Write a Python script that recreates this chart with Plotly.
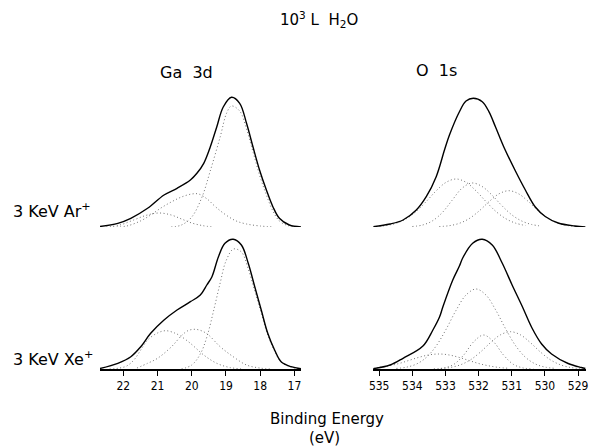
import plotly.graph_objects as go

# ---------------- data (binding energy in eV, intensity in arbitrary units) ----------------
# Ga 3d, 3 keV Ar+
ga_ar_env_be = [22.68, 22.16, 21.78, 21.29, 20.81, 20.43, 20.04, 19.85, 19.65, 19.46, 19.27, 19.08, 18.84,
                18.60, 18.40, 18.21, 18.02, 17.82, 17.63, 17.44, 17.15, 16.81]
ga_ar_env = [0.5, 3.7, 8.7, 18.7, 32, 38.7, 47, 53.7, 63.7, 80, 100, 120, 129.7,
             123.7, 103.7, 80, 57, 37, 20.3, 8.7, 2, 0]
ga_ar_c1_be = [20.6, 20.3, 20.0, 19.7, 19.46, 19.17, 18.98, 18.84, 18.6, 18.4, 18.21, 18.02, 17.82, 17.63, 17.44, 17.2, 16.9]
ga_ar_c1 = [0, 2, 10, 30, 56, 90, 114, 121, 116, 98, 75, 52, 32, 16, 6, 1.5, 0]
ga_ar_c2_be = [22.3, 21.9, 21.5, 21.2, 20.9, 20.6, 20.3, 20.0, 19.8, 19.55, 19.3, 19.0, 18.7, 18.4, 18.0, 17.6]
ga_ar_c2 = [0, 1, 6, 12, 19, 25, 30, 33, 33, 28, 20, 12, 6, 3, 1, 0]
ga_ar_c3_be = [22.5, 22.1, 21.7, 21.3, 20.95, 20.6, 20.3, 20.0, 19.7, 19.4]
ga_ar_c3 = [0, 2, 7, 12, 14, 12, 8, 4, 1.5, 0]

# Ga 3d, 3 keV Xe+
ga_xe_env_be = [22.68, 22.16, 21.78, 21.49, 21.20, 20.81, 20.43, 20.04, 19.75, 19.56, 19.41, 19.22, 19.03,
                18.79, 18.55, 18.35, 18.16, 17.97, 17.78, 17.58, 17.39, 17.10, 16.81]
ga_xe_env = [0.5, 5.7, 12.3, 22.3, 35.7, 49, 59, 67.3, 74, 84, 92.3, 112.3, 125.7,
             129.7, 124, 105.7, 82.3, 59, 35.7, 19, 7.3, 2.3, 0.3]
ga_xe_c1_be = [20.3, 20.0, 19.75, 19.55, 19.35, 19.17, 19.0, 18.78, 18.55, 18.35, 18.16, 17.97, 17.78, 17.58, 17.39, 17.1, 16.85]
ga_xe_c1 = [0, 4, 15, 33, 60, 86, 108, 120, 117, 100, 78, 56, 34, 18, 7, 2, 0]
ga_xe_c2_be = [22.4, 22.1, 21.9, 21.69, 21.49, 21.29, 21.0, 20.76, 20.5, 20.33, 20.04, 19.65, 19.27, 18.89, 18.5]
ga_xe_c2 = [0, 1, 3, 9, 19, 29, 36, 38.3, 36, 33, 25.7, 14, 5.7, 1.5, 0]
ga_xe_c3_be = [21.6, 21.29, 21.0, 20.6, 20.28, 20.1, 19.9, 19.7, 19.51, 19.17, 18.79, 18.4, 18.02, 17.7]
ga_xe_c3 = [1, 5.7, 10.7, 22, 34, 38.5, 39.7, 38, 34, 22.3, 12.3, 4, 1, 0]

# O 1s, 3 keV Ar+
o_ar_env_be = [535.18, 534.67, 534.28, 533.88, 533.58, 533.28, 533.03, 532.88, 532.58, 532.38, 532.16,
               531.89, 531.69, 531.49, 531.24, 530.89, 530.59, 530.29, 529.99, 529.60, 529.10, 528.78]
o_ar_env = [0.3, 3, 7, 17, 30.3, 50.3, 77, 92, 115.3, 126, 128.7,
            125.3, 115.3, 100, 80, 56, 37, 20, 10.5, 4, 1, 0]
o_ar_c1_be = [535.1, 534.78, 534.48, 534.18, 533.88, 533.58, 533.28, 532.98, 532.68, 532.38, 532.08,
              531.78, 531.48, 531.18, 530.88, 530.58]
o_ar_c1 = [0.5, 1.5, 3.8, 8.3, 15.6, 25.5, 36.2, 44.7, 48, 44.7, 36.2, 25.5, 15.6, 8.3, 3.8, 1.5]
o_ar_c2_be = [534.0, 533.7, 533.4, 533.1, 532.8, 532.5, 532.2, 531.9, 531.6, 531.3, 531.0, 530.7, 530.4, 530.1]
o_ar_c2 = [0.5, 1.9, 6, 14.3, 26.7, 38.8, 44, 40.6, 32, 21.4, 12.2, 6, 2.5, 0.9]
o_ar_c3_be = [533.19, 532.89, 532.59, 532.29, 531.99, 531.69, 531.39, 531.09, 530.79, 530.49, 530.19,
              529.89, 529.59, 529.29, 528.99]
o_ar_c3 = [0.4, 1.3, 3.6, 8.3, 15.9, 25.2, 33.1, 36.3, 33.1, 25.2, 15.9, 8.3, 3.6, 1.3, 0.4]

# O 1s, 3 keV Xe+
o_xe_env_be = [535.18, 534.67, 534.28, 533.68, 533.38, 533.18, 533.08, 532.78, 532.58, 532.48, 532.18,
               531.89, 531.59, 531.29, 530.99, 530.69, 530.39, 530.10, 529.80, 529.30, 528.90, 528.78]
o_xe_env = [0.3, 4, 10.7, 23, 39, 52, 62, 89, 103, 111, 125.7,
            129.7, 124, 106, 84, 63, 41, 25, 15, 5.5, 1.5, 0.5]
o_xe_c1_be = [534.48, 534.18, 533.88, 533.58, 533.28, 532.98, 532.68, 532.38, 532.08, 531.78, 531.48,
              531.18, 530.88, 530.58, 530.28, 529.98, 529.68]
o_xe_c1 = [0.6, 1.8, 4.9, 11.5, 23.1, 39.8, 58.7, 74, 80, 74, 58.7, 39.8, 23.1, 11.5, 4.9, 1.8, 0.6]
o_xe_c2_be = [533.35, 533.05, 532.75, 532.45, 532.15, 531.85, 531.55, 531.25, 530.95, 530.65, 530.35]
o_xe_c2 = [0.2, 1, 4.6, 14, 27.2, 34, 27.2, 14, 4.6, 1, 0.2]
o_xe_c3_be = [533.14, 532.84, 532.54, 532.24, 531.94, 531.64, 531.34, 531.04, 530.74, 530.44, 530.14,
              529.84, 529.54, 529.24, 528.94]
o_xe_c3 = [0.5, 1.6, 4.3, 9.3, 17.1, 26.4, 34.2, 37.3, 34.2, 26.4, 17.1, 9.3, 4.3, 1.6, 0.5]
o_xe_c4_be = [535.18, 535.0, 534.7, 534.4, 534.1, 533.8, 533.5, 533.2, 532.9, 532.6, 532.3, 532.0, 531.7, 531.4, 531.1]
o_xe_c4 = [0.5, 1.6, 3.2, 5.5, 8.6, 11.7, 14.1, 15, 14.1, 11.7, 8.6, 5.5, 3.2, 1.6, 0.7]

ga_ticks = [22, 21, 20, 19, 18, 17]
o_ticks = [535, 534, 533, 532, 531, 530, 529]

title_text = "10<sup>3</sup> L  H<sub>2</sub>O"
col_titles = ["Ga  3d", "O  1s"]
row_titles = ["3 KeV Ar<sup>+</sup>", "3 KeV Xe<sup>+</sup>"]
xlabel = "Binding Energy"
xunit = "(eV)"

# ---------------- figure ----------------
FONT = "DejaVu Sans"
FONT_NARROW = "DejaVu Sans Condensed"
W, H = 591, 448
fig = go.Figure()

panels = [
    ("x", "y", ga_ar_env_be, ga_ar_env, [(ga_ar_c1_be, ga_ar_c1), (ga_ar_c2_be, ga_ar_c2), (ga_ar_c3_be, ga_ar_c3)]),
    ("x2", "y2", o_ar_env_be, o_ar_env, [(o_ar_c1_be, o_ar_c1), (o_ar_c2_be, o_ar_c2), (o_ar_c3_be, o_ar_c3)]),
    ("x3", "y3", ga_xe_env_be, ga_xe_env, [(ga_xe_c1_be, ga_xe_c1), (ga_xe_c2_be, ga_xe_c2), (ga_xe_c3_be, ga_xe_c3)]),
    ("x4", "y4", o_xe_env_be, o_xe_env, [(o_xe_c1_be, o_xe_c1), (o_xe_c2_be, o_xe_c2), (o_xe_c3_be, o_xe_c3),
                                         (o_xe_c4_be, o_xe_c4)]),
]

for xa, ya, ebe, ev, comps in panels:
    for cbe, cv in comps:
        fig.add_trace(go.Scatter(x=cbe, y=cv, xaxis=xa, yaxis=ya, mode="lines",
                                 line=dict(color="#707070", width=1, dash="1px,2.5px", shape="spline", smoothing=1.0),
                                 hoverinfo="skip", showlegend=False))
    fig.add_trace(go.Scatter(x=ebe, y=ev, xaxis=xa, yaxis=ya, mode="lines",
                             line=dict(color="black", width=1.4, shape="spline", smoothing=1.0),
                             hoverinfo="skip", showlegend=False))

xl = [97 / W, 300 / W]
xr = [373 / W, 588 / W]
yt = [1 - 227 / H, 1 - 92 / H]
yb = [1 - 369 / H, 1 - 234 / H]
ga_range = [22.68, 16.81]
o_range = [535.18, 528.76]

hidden = dict(showline=False, showticklabels=False, showgrid=False, zeroline=False, ticks="")
yax = dict(range=[0, 135], **hidden)
tickfont = dict(family=FONT_NARROW, size=12, color="black")

def bottom_axis(rng, dom, ticks):
    return dict(domain=dom, range=rng, showline=True, linecolor="black", linewidth=1.5,
                ticks="outside", ticklen=5, tickwidth=1, tickcolor="black",
                tickvals=ticks, ticktext=[str(t) for t in ticks], tickfont=tickfont,
                showgrid=False, zeroline=False)

fig.update_layout(
    width=W, height=H, margin=dict(l=0, r=0, t=0, b=0),
    paper_bgcolor="white", plot_bgcolor="white",
    font=dict(family=FONT, size=14, color="black"),
    xaxis=dict(domain=xl, range=ga_range, anchor="y", **hidden),
    yaxis=dict(domain=yt, anchor="x", **yax),
    xaxis2=dict(domain=xr, range=o_range, anchor="y2", **hidden),
    yaxis2=dict(domain=yt, anchor="x2", **yax),
    xaxis3=dict(anchor="y3", **bottom_axis(ga_range, xl, ga_ticks)),
    yaxis3=dict(domain=yb, anchor="x3", **yax),
    xaxis4=dict(anchor="y4", **bottom_axis(o_range, xr, o_ticks)),
    yaxis4=dict(domain=yb, anchor="x4", **yax),
)

def label(text, x, y, size=16, xanchor="center"):
    fig.add_annotation(text=text, x=x / W, y=1 - y / H, xref="paper", yref="paper",
                       xanchor=xanchor, yanchor="middle", showarrow=False,
                       font=dict(family=FONT, size=size, color="black"))

label(title_text, 318, 20, size=15)
label(col_titles[0], 184, 72)
label(col_titles[1], 437, 71)
label(row_titles[0], 7, 211, size=16, xanchor="left")
label(row_titles[1], 7, 358, size=16, xanchor="left")
label(xlabel, 326, 419, size=15)
label(xunit, 324, 438, size=15)

fig.write_html("out.html", config={"displayModeBar": False},
               post_script="document.body.style.margin='0';document.body.style.overflow='hidden';")
